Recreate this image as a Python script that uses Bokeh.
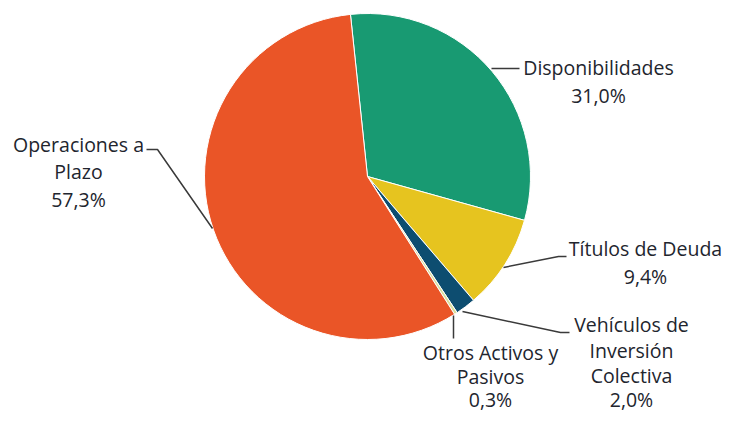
import numpy as np
from bokeh.plotting import figure
from bokeh.models import Range1d
from bokeh.core.properties import value
from bokeh.embed import file_html
from bokeh.resources import INLINE

categories = ["Disponibilidades", "Títulos de Deuda", "Vehículos de Inversión Colectiva",
              "Otros Activos y Pasivos", "Operaciones a Plazo"]
shares = [31.0, 9.4, 2.0, 0.3, 57.3]
value_labels = ["31,0%", "9,4%", "2,0%", "0,3%", "57,3%"]
colors = ["#189A72", "#E6C41F", "#0D4D70", "#D9DF9E", "#EA5527"]

W, H = 726, 413
p = figure(width=W, height=H, output_backend="svg", toolbar_location=None,
           x_range=Range1d(0, W), y_range=Range1d(0, H),
           x_axis_type=None, y_axis_type=None, min_border=0)
p.outline_line_color = None
p.grid.visible = False

def Y(ys):
    return H - ys

cx, cy, r = 367, Y(176), 163
start0 = np.deg2rad(96)
fr = np.array(shares) / sum(shares)
cum = np.concatenate([[0], np.cumsum(fr)])
ends = start0 - cum[:-1] * 2 * np.pi
starts = start0 - cum[1:] * 2 * np.pi
p.wedge(x=cx, y=cy, radius=r, start_angle=starts, end_angle=ends, direction="anticlock",
        fill_color=colors, line_color="white", line_width=1)

lc = "#3a3a3a"
leaders = [
    ([491, 519], [68, 68]),
    ([503, 558, 566], [267, 256, 256]),
    ([462, 560, 569], [311, 332, 332]),
    ([453, 453], [315, 338]),
    ([212, 157, 146], [228, 149, 149]),
]
for xs, ys in leaders:
    p.line(xs, [Y(v) for v in ys], line_color=lc, line_width=1.5)

font = value("Open Sans")
tc = "#22252e"
labels = [
    (598, [67, 95], ["Disponibilidades", value_labels[0]]),
    (645, [248, 276], ["Títulos de Deuda", value_labels[1]]),
    (631, [324, 350, 375, 399], ["Vehículos de", "Inversión", "Colectiva", value_labels[2]]),
    (490, [352, 376, 399], ["Otros Activos y", "Pasivos", value_labels[3]]),
    (78, [144, 171, 199], ["Operaciones a", "Plazo", value_labels[4]]),
]
for x, ys, txts in labels:
    p.text(x=[x] * len(ys), y=[Y(v) for v in ys], text=txts, text_font=font,
           text_font_size="19.5px", text_color=tc, text_align="center", text_baseline="middle")

open("out.html", "w").write(file_html(p, INLINE))
